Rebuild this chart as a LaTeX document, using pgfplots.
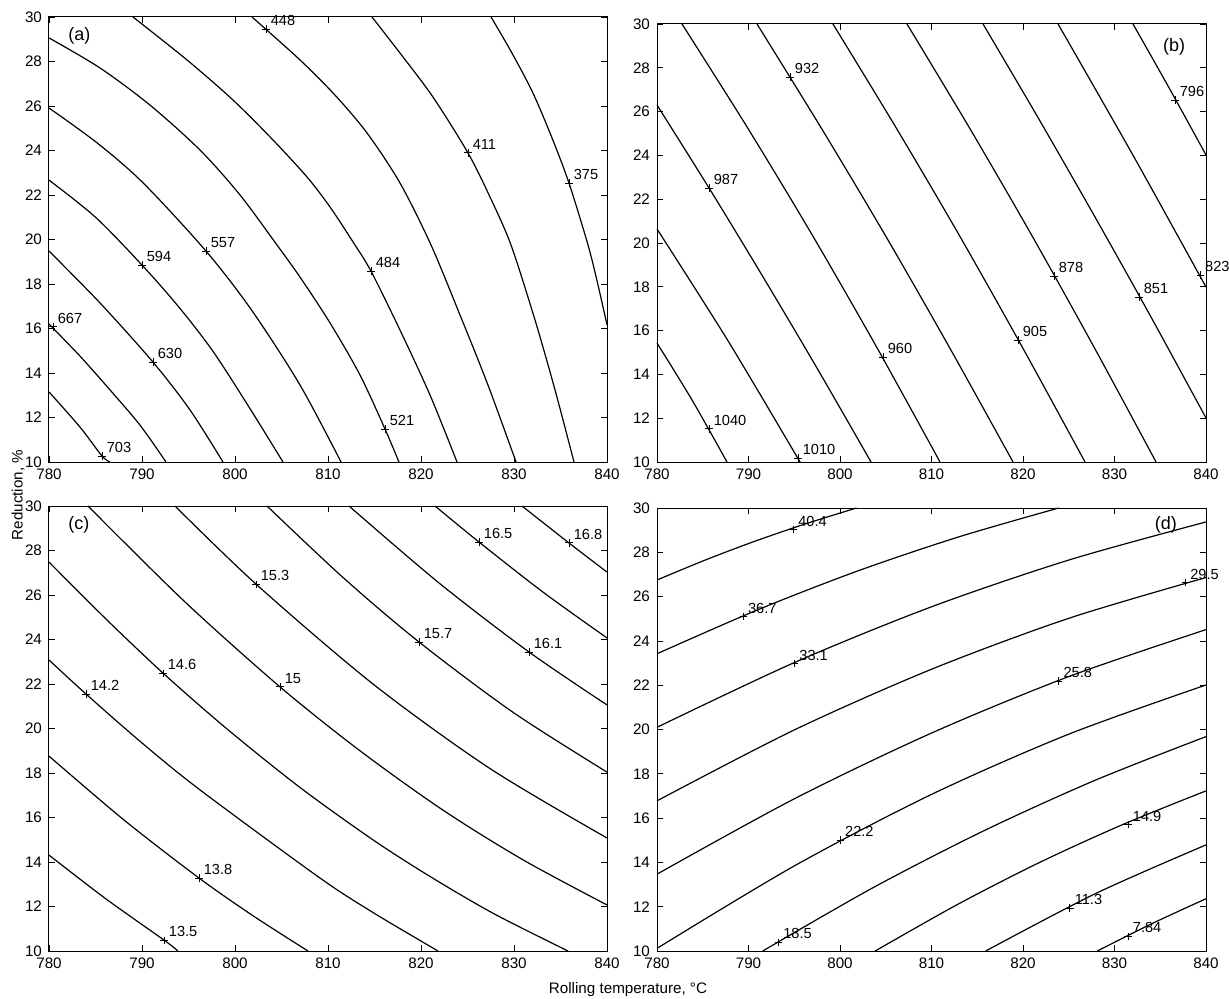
\documentclass[border=0pt]{standalone}
\usepackage{fontspec}
\setmainfont{Liberation Sans}
\usepackage{pgfplots}
\pgfplotsset{compat=1.18}
\pgfplotsset{
  panel/.style={
    scale only axis, clip=false,
    xmin=780, xmax=840, ymin=10, ymax=30,
    xtick={780,790,...,840}, ytick={10,12,...,30},
    tick align=inside, major tick length=3pt,
    tick style={black, line width=0.4pt},
    axis line style={black, line width=0.5pt},
    tick label style={font=\fontsize{7.6}{8.5}\selectfont, black},
    /pgf/number format/assume math mode=true,
    /pgf/number format/1000 sep={},
  },
  cont/.style={black, line width=0.6pt, smooth, no markers},
  lab/.style={only marks, mark=+, mark size=1.8pt, black, mark options={line width=0.45pt},
    nodes near coords, point meta=explicit symbolic,
    nodes near coords style={anchor=south west, inner sep=0pt, xshift=2.2pt, yshift=1.3pt,
      font=\fontsize{7.3}{8}\selectfont, black}},
}
\tikzset{plab/.style={anchor=west, inner sep=0pt, font=\fontsize{9}{10}\selectfont}}
\begin{document}
\begin{tikzpicture}
\useasboundingbox (0,0) rectangle (614.5pt,-499.5pt);
% ---------------- (a)
\begin{axis}[panel, at={(24.5pt,-231pt)}, anchor=south west, width=279pt, height=222.5pt]
\addplot[cont] coordinates {(780,13.15) (783.33,11.57) (785.70,10.27) (786.56,10)};
\addplot[cont] coordinates {(780,16.20) (783.33,14.76) (786.56,13.24) (789.78,11.66) (792.58,10)};
\addplot[cont] coordinates {(780,19.48) (785.48,17.15) (791.18,14.49) (795.16,12.34) (798.71,10)};
\addplot[cont] coordinates {(780,22.67) (785.0,21) (790,18.85) (793.89,17) (797.59,15) (801.46,12.5) (805.16,10)};
\addplot[cont] coordinates {(780,25.91) (785.18,24.34) (790.13,22.54) (796.88,19.48) (801.78,16.83) (806.99,13.46) (811.40,10)};
\addplot[cont] coordinates {(780,29.06) (785.48,27.71) (790.86,26.04) (796.24,24.02) (800.54,22.0) (804.52,19.75) (806.99,18.31) (810.22,16.25) (813.44,13.91) (816.13,11.48) (817.63,10)};
\addplot[cont] coordinates {(789.03,30) (794.84,28.07) (799.78,26.27) (804.09,24.47) (807.74,22.81) (810.22,21.46) (812.69,19.89) (814.62,18.58) (817.74,15.93) (820.97,13.01) (823.87,10)};
\addplot[cont] coordinates {(801.83,30) (806.99,28.07) (810.75,26.49) (814.19,24.79) (817.74,22.54) (821.08,19.75) (824.19,16.61) (827.20,13.46) (830.22,10)};
\addplot[cont] coordinates {(814.73,30) (817.74,28.38) (821.29,26.40) (825.05,23.89) (827.42,21.91) (829.68,19.75) (832.26,16.38) (834.41,13.24) (836.45,10)};
\addplot[cont] coordinates {(827.53,30) (829.78,28.38) (832.04,26.58) (834.09,24.56) (835.91,22.54) (837.96,19.75) (839.03,17.96) (840,16.16)};
\addplot[lab] table[meta=l] {
x y l
785.70 10.27 703
780.43 16.07 667
791.18 14.49 630
790.00 18.85 594
796.88 19.48 557
816.13 11.48 521
814.62 18.58 484
803.33 29.46 448
825.05 23.89 411
835.91 22.54 375
};
\node[plab] at (rel axis cs:0.034,0.957) {(a)};
\end{axis}
% ---------------- (b)
\begin{axis}[panel, at={(328.5pt,-231pt)}, anchor=south west, width=274.5pt, height=219pt]
\addplot[cont] coordinates {(780,15.43) (783.83,12.83) (787.65,10)};
\addplot[cont] coordinates {(780,20.64) (787.81,15.50) (795.63,10)};
\addplot[cont] coordinates {(780,26.30) (785.85,22.40) (791.69,18.38) (797.54,14.25) (803.39,10)};
\addplot[cont] coordinates {(782.73,30) (789.78,25.34) (796.83,20.46) (803.88,15.34) (810.93,10)};
\addplot[cont] coordinates {(790.93,30) (797.92,25.27) (804.92,20.37) (811.91,15.27) (818.91,10)};
\addplot[cont] coordinates {(799.23,30) (806.12,25.27) (813.01,20.37) (819.89,15.27) (826.78,10)};
\addplot[cont] coordinates {(807.32,30) (814.13,25.27) (820.93,20.37) (827.73,15.27) (834.54,10)};
\addplot[cont] coordinates {(815.63,30) (821.72,25.67) (827.81,21.23) (833.91,16.68) (840,12.01)};
\addplot[cont] coordinates {(823.83,30) (831.91,24.09) (840,17.99)};
\addplot[cont] coordinates {(832.02,30) (836.01,27.05) (840,24.02)};
\addplot[lab] table[meta=l] {
x y l
785.68 11.51 1040
795.41 10.18 1010
785.68 22.51 987
804.70 14.79 960
794.54 27.58 932
819.45 15.57 905
823.39 18.49 878
832.68 17.53 851
839.38 18.54 823
836.61 26.53 796
};
\node[plab] at (rel axis cs:0.921,0.947) {(b)};
\end{axis}
% ---------------- (c)
\begin{axis}[panel, at={(24.5pt,-475.5pt)}, anchor=south west, width=279pt, height=222.5pt]
\addplot[cont] coordinates {(780,14.31) (786.13,12.34) (792.37,10.49) (793.87,10)};
\addplot[cont] coordinates {(780,18.76) (788.06,15.89) (796.13,13.28) (801.99,11.57) (807.85,10)};
\addplot[cont] coordinates {(780,23.08) (783.98,21.55) (790,19.35) (796.24,17.24) (809.14,13.28) (815,11.69) (821.83,10)};
\addplot[cont] coordinates {(780,27.48) (786.13,24.92) (792.26,22.49) (799,20.03) (806.99,17.35) (815,14.95) (821.40,13.24) (828,11.64) (835.81,10)};
\addplot[cont] coordinates {(784.19,30) (794.52,25.73) (804.84,21.87) (813.5,18.98) (822.37,16.33) (831,14.09) (840,12.07)};
\addplot[cont] coordinates {(793.55,30) (802.26,26.49) (814.84,22.0) (827.42,18.20) (840,15.08)};
\addplot[cont] coordinates {(803.44,30) (811.61,26.79) (819.78,23.89) (829.89,20.73) (840,18.04)};
\addplot[cont] coordinates {(812.26,30) (821.94,26.54) (831.61,23.44) (840,21.06)};
\addplot[cont] coordinates {(821.51,30) (826.24,28.38) (833.12,26.13) (840,24.07)};
\addplot[cont] coordinates {(830.86,30) (835.91,28.34) (840,27.03)};
\addplot[lab] table[meta=l] {
x y l
792.37 10.49 13.5
796.13 13.28 13.8
783.98 21.55 14.2
792.26 22.49 14.6
804.84 21.87 15
802.26 26.49 15.3
819.78 23.89 15.7
831.61 23.44 16.1
826.24 28.38 16.5
835.91 28.34 16.8
};
\node[plab] at (rel axis cs:0.034,0.957) {(c)};
\end{axis}
% ---------------- (d)
\begin{axis}[panel, at={(328.5pt,-475.5pt)}, anchor=south west, width=274.5pt, height=221.5pt]
\addplot[cont] coordinates {(780,26.75) (785.45,27.68) (790.9,28.53) (796.35,29.30) (801.8,30)};
\addplot[cont] coordinates {(780,23.42) (790.98,25.40) (801.95,27.16) (812.93,28.69) (823.9,30)};
\addplot[cont] coordinates {(780,20.10) (795,23.02) (810,25.54) (825,27.65) (840,29.37)};
\addplot[cont] coordinates {(780,16.78) (795,19.98) (810,22.72) (825,25.02) (840,26.86)};
\addplot[cont] coordinates {(780,13.47) (795,16.87) (810,19.84) (825,22.39) (840,24.51)};
\addplot[cont] coordinates {(780,10.12) (795,13.84) (810,17.07) (825,19.79) (840,22.01)};
\addplot[cont] coordinates {(791.55,10) (803.66,12.87) (815.78,15.44) (827.89,17.71) (840,19.68)};
\addplot[cont] coordinates {(803.84,10) (812.88,12.11) (821.92,14.02) (830.96,15.72) (840,17.23)};
\addplot[cont] coordinates {(815.92,10) (827.96,12.6) (840,14.79)};
\addplot[cont] coordinates {(828.12,10) (834.06,11.23) (840,12.36)};
\addplot[lab] table[meta=l] {
x y l
794.91 29.03 40.4
789.42 25.11 36.7
795.03 22.97 33.1
837.75 26.65 29.5
823.90 22.19 25.8
800.03 15.01 22.2
793.27 10.40 18.5
831.48 15.71 14.9
825.13 11.94 11.3
831.48 10.67 7.84
};
\node[plab] at (rel axis cs:0.906,0.961) {(d)};
\end{axis}
\node[rotate=90, font=\fontsize{7.6}{9}\selectfont] at (9pt,-247.5pt) {Reduction, \%};
\node[font=\fontsize{7.6}{9}\selectfont] at (314pt,-495pt) {Rolling temperature, °C};
\end{tikzpicture}
\end{document}
